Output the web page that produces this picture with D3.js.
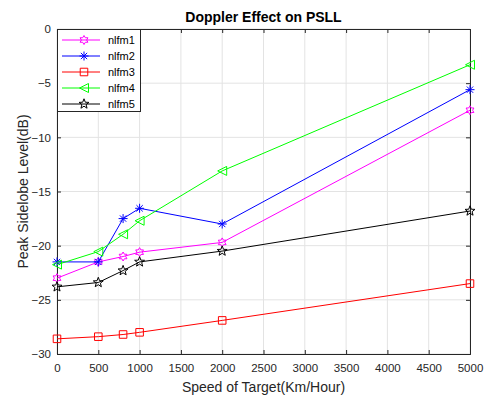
<!DOCTYPE html>
<html>
<head>
<meta charset="utf-8">
<script src="https://cdn.jsdelivr.net/npm/d3@7"></script>
<style>
  body { margin: 0; background: #fff; }
  text { font-family: "Liberation Sans", Arial, sans-serif; }
</style>
</head>
<body>
<div class="canva"></div>
<script>
// data
const speeds = [0, 500, 800, 1000, 2000, 5000];
const seriesNames = ["nlfm1", "nlfm2", "nlfm3", "nlfm4", "nlfm5"];
const nlfm1 = [-23.0, -21.5, -21.0, -20.6, -19.7, -7.5];
const nlfm2 = [-21.5, -21.5, -17.5, -16.55, -18.0, -5.6];
const nlfm3 = [-28.6, -28.4, -28.2, -28.0, -26.9, -23.5];
const nlfm4 = [-21.75, -20.55, -18.95, -17.7, -13.1, -3.3];
const nlfm5 = [-23.8, -23.4, -22.3, -21.5, -20.5, -16.8];
const xTicks = [0, 500, 1000, 1500, 2000, 2500, 3000, 3500, 4000, 4500, 5000];
const yTicks = [0, -5, -10, -15, -20, -25, -30];

const colors = ["#ff00ff", "#0000ff", "#ff0000", "#00ff00", "#000000"];
const markers = ["hexagram", "asterisk", "square", "triangleLeft", "pentagram"];
const allSeries = [nlfm1, nlfm2, nlfm3, nlfm4, nlfm5];

const width = 488, height = 398;
const margin = {top: 29, right: 18, bottom: 44, left: 57};

const svg = d3.select(".canva").append("svg")
  .attr("width", width)
  .attr("height", height);

const x = d3.scaleLinear().domain([0, 5000]).range([margin.left, width - margin.right]);
const y = d3.scaleLinear().domain([-30, 0]).range([height - margin.bottom, margin.top]);

// grid
svg.append("g").selectAll("line.gx")
  .data(xTicks).enter().append("line")
  .attr("x1", d => x(d)).attr("x2", d => x(d))
  .attr("y1", y(-30)).attr("y2", y(0))
  .attr("stroke", "#e3e3e3").attr("stroke-width", 1);
svg.append("g").selectAll("line.gy")
  .data(yTicks).enter().append("line")
  .attr("x1", x(0)).attr("x2", x(5000))
  .attr("y1", d => y(d)).attr("y2", d => y(d))
  .attr("stroke", "#e3e3e3").attr("stroke-width", 1);

// axes (MATLAB style box with inward ticks)
const xAxis = svg.append("g")
  .attr("transform", `translate(0,${y(-30)})`)
  .call(d3.axisBottom(x).tickValues(xTicks).tickSize(-4).tickPadding(10).tickFormat(d3.format("d")));
const xAxisTop = svg.append("g")
  .attr("transform", `translate(0,${y(0)})`)
  .call(d3.axisTop(x).tickValues(xTicks).tickSize(-4).tickFormat(""));
const yAxis = svg.append("g")
  .attr("transform", `translate(${x(0)},0)`)
  .call(d3.axisLeft(y).tickValues(yTicks).tickSize(-4).tickPadding(6).tickFormat(d3.format("d")));
const yAxisRight = svg.append("g")
  .attr("transform", `translate(${x(5000)},0)`)
  .call(d3.axisRight(y).tickValues(yTicks).tickSize(-4).tickFormat(""));

[xAxis, xAxisTop, yAxis, yAxisRight].forEach(function(g) {
  g.selectAll("path").attr("stroke", "#262626").attr("stroke-width", 1);
  g.selectAll("line").attr("stroke", "#262626");
  g.selectAll("text").attr("fill", "#262626").style("font-size", "11.5px")
    .style("font-family", "'Liberation Sans', Arial, sans-serif");
});

// marker paths
function markerPath(type, s) {
  const p = d3.path();
  if (type === "square") {
    p.rect(-s * 0.42, -s * 0.42, s * 0.84, s * 0.84);
  } else if (type === "triangleLeft") {
    p.moveTo(-s * 0.5, 0); p.lineTo(s * 0.5, -s * 0.5); p.lineTo(s * 0.5, s * 0.5); p.closePath();
  } else if (type === "asterisk") {
    const r = s * 0.5;
    p.moveTo(-r, 0); p.lineTo(r, 0);
    p.moveTo(0, -r); p.lineTo(0, r);
    p.moveTo(-r * 0.7, -r * 0.7); p.lineTo(r * 0.7, r * 0.7);
    p.moveTo(-r * 0.7, r * 0.7); p.lineTo(r * 0.7, -r * 0.7);
  } else if (type === "pentagram") {
    const R = s * 0.58, ri = R * 0.42;
    for (let i = 0; i < 10; i++) {
      const a = -Math.PI / 2 + i * Math.PI / 5;
      const rr = i % 2 === 0 ? R : ri;
      if (i === 0) p.moveTo(rr * Math.cos(a), rr * Math.sin(a));
      else p.lineTo(rr * Math.cos(a), rr * Math.sin(a));
    }
    p.closePath();
  } else if (type === "hexagram") {
    const R = s * 0.5, ri = R * 0.58;
    for (let i = 0; i < 12; i++) {
      const a = -Math.PI / 2 + i * Math.PI / 6;
      const rr = i % 2 === 0 ? R : ri;
      if (i === 0) p.moveTo(rr * Math.cos(a), rr * Math.sin(a));
      else p.lineTo(rr * Math.cos(a), rr * Math.sin(a));
    }
    p.closePath();
  }
  return p.toString();
}

const line = d3.line()
  .x((d, i) => x(speeds[i]))
  .y(d => y(d));

const plot = svg.append("g");

allSeries.forEach(function(vals, k) {
  plot.append("path")
    .datum(vals)
    .attr("d", line)
    .attr("fill", "none")
    .attr("stroke", colors[k])
    .attr("stroke-width", 1);

  plot.selectAll("path.m" + k)
    .data(vals)
    .enter().append("path")
    .attr("class", "m" + k)
    .attr("transform", (d, i) => `translate(${x(speeds[i])},${y(d)})`)
    .attr("d", markerPath(markers[k], 9))
    .attr("fill", "none")
    .attr("stroke", colors[k])
    .attr("stroke-width", 1);
});

// legend
const legend = svg.append("g");
legend.append("rect")
  .attr("x", x(0) + 0.5).attr("y", y(0) + 0.5)
  .attr("width", 83).attr("height", 82)
  .attr("fill", "#fff").attr("stroke", "#262626").attr("stroke-width", 1);

seriesNames.forEach(function(name, k) {
  const ly = 40 + k * 16;
  legend.append("line")
    .attr("x1", 62).attr("x2", 100)
    .attr("y1", ly).attr("y2", ly)
    .attr("stroke", colors[k]).attr("stroke-width", 1);
  legend.append("path")
    .attr("transform", `translate(84,${ly})`)
    .attr("d", markerPath(markers[k], 9))
    .attr("fill", "none").attr("stroke", colors[k]).attr("stroke-width", 1);
  legend.append("text")
    .attr("x", 108).attr("y", ly + 4)
    .attr("fill", "#000")
    .style("font-size", "11px")
    .text(name);
});

// title and labels
svg.append("text")
  .attr("x", (x(0) + x(5000)) / 2).attr("y", 22)
  .attr("text-anchor", "middle")
  .style("font-size", "14px").style("font-weight", "bold")
  .attr("fill", "#000")
  .text("Doppler Effect on PSLL");

svg.append("text")
  .attr("x", (x(0) + x(5000)) / 2).attr("y", 392)
  .attr("text-anchor", "middle")
  .style("font-size", "14px")
  .attr("fill", "#262626")
  .text("Speed of Target(Km/Hour)");

svg.append("text")
  .attr("transform", `translate(28,${(y(0) + y(-30)) / 2}) rotate(-90)`)
  .attr("text-anchor", "middle")
  .style("font-size", "14px")
  .attr("fill", "#262626")
  .text("Peak Sidelobe Level(dB)");
</script>
</body>
</html>
